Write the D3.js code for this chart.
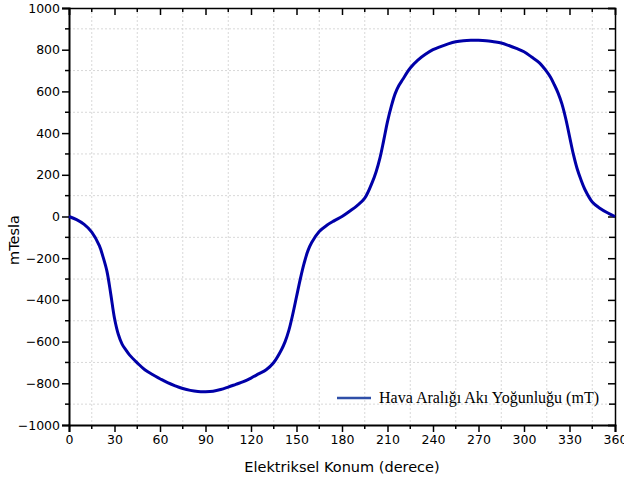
<!DOCTYPE html>
<html>
<head>
<meta charset="utf-8">
<script src="https://cdn.jsdelivr.net/npm/d3@7"></script>
<style>
  body { margin: 0; background: #fff; }
  svg { display: block; }
</style>
</head>
<body>
<svg id="chart" width="624" height="489"></svg>
<script>
// electrical position (degrees) and air-gap flux density (mT)
var angles = [0, 5, 10, 15, 20, 22.5, 25, 27.5, 30, 32.5, 35, 37.5, 40, 45, 50, 55, 60, 65, 70, 75, 80, 85, 90,
  95, 100, 105, 110, 115, 120, 125, 130, 135, 140, 142.5, 145, 147.5, 150, 152.5, 155, 157.5, 160, 165, 170, 175, 180,
  185, 190, 195, 200, 202.5, 205, 207.5, 210, 212.5, 215, 217.5, 220, 225, 230, 235, 240, 245, 250, 255, 260, 265, 270,
  275, 280, 285, 290, 295, 300, 305, 310, 315, 317.5, 320, 322.5, 325, 327.5, 330, 332.5, 335, 337.5, 340, 345, 350, 355, 360];
var fluxValues = [0, -15, -38, -75, -140, -195, -262, -370, -488, -565, -612, -640, -665, -702, -735, -758, -778, -797, -812, -825, -834, -839, -840,
  -838, -830, -818, -805, -792, -775, -755, -735, -700, -640, -600, -545, -470, -385, -300, -225, -165, -125, -72, -42, -20, 0,
  25, 52, 88, 165, 215, 280, 365, 455, 528, 588, 628, 657, 712, 750, 778, 800, 815, 828, 838, 843, 845, 845,
  843, 838, 832, 820, 806, 790, 765, 738, 695, 668, 632, 592, 540, 470, 385, 300, 230, 177, 132, 70, 40, 18, 0];

var xMajor = [0, 30, 60, 90, 120, 150, 180, 210, 240, 270, 300, 330, 360];
var xMinor = [15, 45, 75, 105, 135, 165, 195, 225, 255, 285, 315, 345];
var yMajor = [-1000, -800, -600, -400, -200, 0, 200, 400, 600, 800, 1000];
var yMinor = [-900, -700, -500, -300, -100, 100, 300, 500, 700, 900];

var seriesName = "Hava Aralığı Akı Yoğunluğu (mT)";
var xTitle = "Elektriksel Konum (derece)";
var yTitle = "mTesla";

var plotLeft = 69, plotRight = 615, plotTop = 8, plotBottom = 425;
var tickFont = "DejaVu Sans, Verdana, sans-serif";

var svg = d3.select("#chart");

var x = d3.scaleLinear().domain([0, 360]).range([plotLeft, plotRight]);
var y = d3.scaleLinear().domain([-1000, 1000]).range([plotBottom, plotTop]);

// grid on minor positions, light dotted
var grid = svg.append("g")
  .attr("stroke", "#d8d8d8")
  .attr("stroke-width", 1)
  .attr("stroke-dasharray", "2,2");

grid.selectAll("line.gx").data(xMinor).join("line")
  .attr("class", "gx")
  .attr("x1", d => x(d)).attr("x2", d => x(d))
  .attr("y1", plotTop).attr("y2", plotBottom);

grid.selectAll("line.gy").data(yMinor).join("line")
  .attr("class", "gy")
  .attr("x1", plotLeft).attr("x2", plotRight)
  .attr("y1", d => y(d)).attr("y2", d => y(d));

// axes
function styleAxis(g) {
  g.select(".domain").attr("stroke", "#000").attr("stroke-width", 2);
  g.selectAll(".tick line").attr("stroke", "#000").attr("stroke-width", 1.5);
  g.selectAll(".tick text").attr("font-family", tickFont).attr("font-size", "12.5px").attr("fill", "#000");
}

function minorTicks(g, values, vertical, len) {
  g.selectAll("line.minor").data(values).join("line")
    .attr("class", "minor")
    .attr("x1", d => vertical ? x(d) : 0).attr("x2", d => vertical ? x(d) : len)
    .attr("y1", d => vertical ? 0 : y(d)).attr("y2", d => vertical ? len : y(d))
    .attr("stroke", "#000").attr("stroke-width", 1.5);
}

var bottomAxis = svg.append("g")
  .attr("transform", "translate(0," + plotBottom + ")")
  .call(d3.axisBottom(x).tickValues(xMajor).tickSize(7).tickPadding(3).tickFormat(d3.format("d")));
styleAxis(bottomAxis);
minorTicks(bottomAxis, xMinor, true, 4);

var leftAxis = svg.append("g")
  .attr("transform", "translate(" + plotLeft + ",0)")
  .call(d3.axisLeft(y).tickValues(yMajor).tickSize(7).tickPadding(2).tickFormat(d3.format("d")));
styleAxis(leftAxis);
minorTicks(leftAxis, yMinor, false, -4);

var topAxis = svg.append("g")
  .attr("transform", "translate(0," + plotTop + ")")
  .call(d3.axisTop(x).tickValues(xMajor).tickSize(-7).tickFormat(""));
topAxis.select(".domain").attr("stroke", "#000").attr("stroke-width", 1.5);
topAxis.selectAll(".tick line").attr("stroke", "#000").attr("stroke-width", 1.5);
minorTicks(topAxis, xMinor, true, 4);

var rightAxis = svg.append("g")
  .attr("transform", "translate(" + plotRight + ",0)")
  .call(d3.axisRight(y).tickValues(yMajor).tickSize(-7).tickFormat(""));
rightAxis.select(".domain").attr("stroke", "#000").attr("stroke-width", 1.5);
rightAxis.selectAll(".tick line").attr("stroke", "#000").attr("stroke-width", 1.5);
minorTicks(rightAxis, yMinor, false, -6);

// curve
var data = angles.map((a, i) => ({ a: a, v: fluxValues[i] }));

var line = d3.line()
  .x(d => x(d.a))
  .y(d => y(d.v))
  .curve(d3.curveCatmullRom.alpha(0.5));

svg.append("path")
  .datum(data)
  .attr("fill", "none")
  .attr("stroke", "#0000a8")
  .attr("stroke-width", 3)
  .attr("stroke-linejoin", "round")
  .attr("d", line);

// legend
svg.append("line")
  .attr("x1", 337).attr("x2", 371)
  .attr("y1", 398).attr("y2", 398)
  .attr("stroke", "#2f4fa8")
  .attr("stroke-width", 2.5);

svg.append("text")
  .attr("x", 379).attr("y", 403)
  .attr("font-family", "Liberation Serif, Times New Roman, serif")
  .attr("font-size", "16px")
  .attr("fill", "#000")
  .text(seriesName);

// axis titles
svg.append("text")
  .attr("x", 342).attr("y", 472)
  .attr("text-anchor", "middle")
  .attr("font-family", tickFont)
  .attr("font-size", "14.5px")
  .attr("fill", "#000")
  .text(xTitle);

svg.append("text")
  .attr("transform", "translate(19,240) rotate(-90)")
  .attr("text-anchor", "middle")
  .attr("font-family", tickFont)
  .attr("font-size", "14.5px")
  .attr("fill", "#000")
  .text(yTitle);
</script>
</body>
</html>
